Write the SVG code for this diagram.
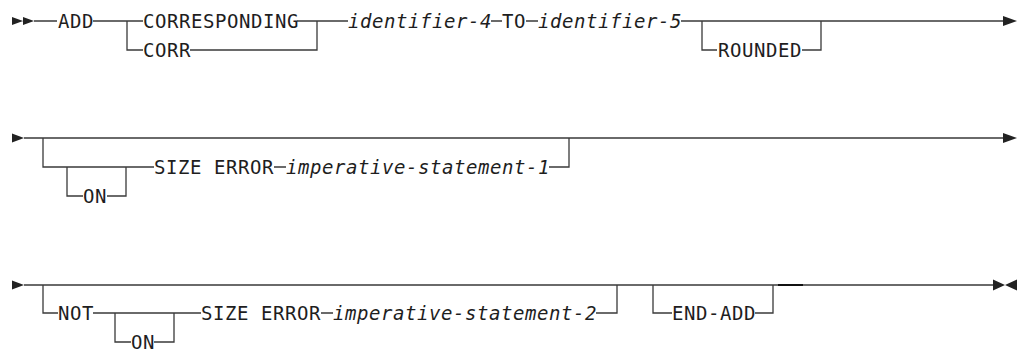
<svg xmlns="http://www.w3.org/2000/svg" width="1019" height="352" viewBox="0 0 1019 352">
<style>
.t{font-family:"DejaVu Sans Mono","Liberation Mono",monospace;font-size:19px;letter-spacing:0.56px;fill:#1e1e1e}
.i{font-style:italic}
.c{fill:none;stroke:#3a3a3a;stroke-width:1.3}
.m{fill:#222}
</style>
<rect width="1019" height="352" fill="#fff"/>
<g id="connectors">
<!-- row 1 -->
<path class="m" d="M12,17 L23,21 L12,25 Z M23,17 L34,21 L23,25 Z"/>
<path class="c" d="M34,21 H57 M93,21 H143 M127,21 V50 H143 M190,50 H317 V21 M297,21 H348 M491,21 H502 M526,21 H538 M681,21 H1004 M702,21 V50 H717 M802,50 H821 V21"/>
<path class="m" d="M1003,16 L1017,21 L1003,26 Z"/>
<!-- row 2 -->
<path class="m" d="M12,133.5 L24,138 L12,142.5 Z"/>
<path class="c" d="M24,138 H1004 M43,138 V167 H154 M67,167 V196 H83 M107,196 H126 V167 M274,167 H286 M549,167 H569 V138"/>
<path class="m" d="M1003,133 L1017,138 L1003,143 Z"/>
<!-- row 3 -->
<path class="m" d="M12,280.5 L24,285 L12,289.5 Z"/>
<path class="c" d="M24,285 H994 M43,285 V313 H58 M93,313 H201 M115,313 V342 H131 M154,342 H174 V313 M321,313 H333 M596,313 H617 V285 M653,285 V313 H672 M755,313 H773 V285"/>
<path d="M778,285 H803" stroke="#111" stroke-width="2" fill="none"/>
<path class="m" d="M993,279.5 L1005,285 L993,290.5 Z M1017,279.5 L1005,285 L1017,290.5 Z"/>
</g>
<g id="n-add"><text class="t" x="58" y="28">ADD</text></g>
<g id="n-corresponding"><text class="t" x="143" y="28">CORRESPONDING</text></g>
<g id="n-corr"><text class="t" x="143" y="57">CORR</text></g>
<g id="n-identifier-4"><text class="t i" x="348" y="28">identifier-4</text></g>
<g id="n-to"><text class="t" x="502" y="28">TO</text></g>
<g id="n-identifier-5"><text class="t i" x="538" y="28">identifier-5</text></g>
<g id="n-rounded"><text class="t" x="718" y="57">ROUNDED</text></g>
<g id="n-on-1"><text class="t" x="83" y="203">ON</text></g>
<g id="n-size-error-1"><text class="t" x="154" y="174">SIZE ERROR</text></g>
<g id="n-imperative-1"><text class="t i" x="286" y="174">imperative-statement-1</text></g>
<g id="n-not"><text class="t" x="58" y="320">NOT</text></g>
<g id="n-on-2"><text class="t" x="131" y="349">ON</text></g>
<g id="n-size-error-2"><text class="t" x="201" y="320">SIZE ERROR</text></g>
<g id="n-imperative-2"><text class="t i" x="333" y="320">imperative-statement-2</text></g>
<g id="n-end-add"><text class="t" x="672" y="320">END-ADD</text></g>
</svg>
